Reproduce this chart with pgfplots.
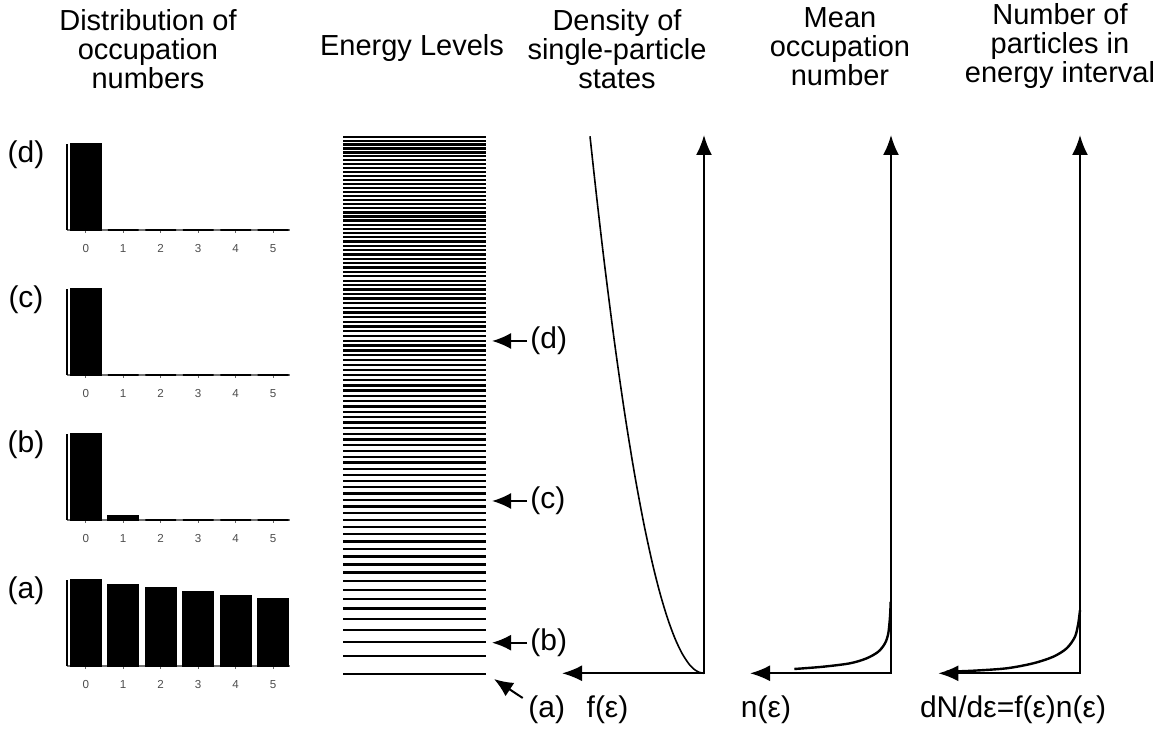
\documentclass[border=0pt]{standalone}
\usepackage{fontspec}
\setmainfont{Liberation Sans}
\usepackage{pgfplots}
\pgfplotsset{compat=1.18}
\usetikzlibrary{arrows.meta}

\pgfplotsset{
  barpanel/.style={
    scale only axis, width=111.5pt, height=43pt,
    xmin=-0.5, xmax=5.45, ymin=0, ymax=1,
    axis x line*=bottom, axis y line*=left,
    x axis line style={draw=black!55, line width=0.8pt, -},
    y axis line style={draw=black, line width=0.9pt, -},
    xtick={0,...,5}, ytick=\empty,
    tick align=inside, major tick length=1.5pt,
    xtick style={draw=black!60, line width=0.4pt},
    /pgf/number format/assume math mode=true,
    xticklabel style={font=\fontsize{5.8}{6}\selectfont, text=black!70, yshift=-2pt},
    ybar, bar width=15.4pt, bar shift=0pt,
    anchor=south west, clip=false,
  },
  curvepanel/.style={
    scale only axis, anchor=south west, hide axis, clip=false,
    x dir=reverse, xmin=0, ymin=0, ymax=538.3, height=269.15pt,
  },
}
\tikzset{bigarrow/.style={line width=1pt, {Latex[length=10pt,width=8pt]}-{Latex[length=10pt,width=8pt]}}}
\newcommand{\lab}{\fontsize{15}{15}\selectfont}
\newcommand{\ttl}{\fontsize{14.5}{14.5}\selectfont}

\begin{document}
\begin{tikzpicture}
\useasboundingbox (0,0) rectangle (578pt,364pt);

% ---------- bar panels ----------
\begin{axis}[barpanel, at={(33.5pt,249pt)}]
\addplot[fill=black, draw=black, line width=0.7pt] coordinates {(0,1) (1,0) (2,0) (3,0) (4,0) (5,0)};
\end{axis}
\begin{axis}[barpanel, at={(33.5pt,176.5pt)}]
\addplot[fill=black, draw=black, line width=0.7pt] coordinates {(0,1) (1,0) (2,0) (3,0) (4,0) (5,0)};
\end{axis}
\begin{axis}[barpanel, at={(33.5pt,104pt)}]
\addplot[fill=black, draw=black, line width=0.7pt] coordinates {(0,1) (1,0.05) (2,0) (3,0) (4,0) (5,0)};
\end{axis}
\begin{axis}[barpanel, at={(33.5pt,31pt)}]
\addplot[fill=black, draw=black, line width=0.7pt] coordinates {(0,1) (1,0.95) (2,0.907) (3,0.861) (4,0.823) (5,0.78)};
\end{axis}

\node[font=\lab] at (13pt,286.5pt) {(d)};
\node[font=\lab] at (13pt,214pt) {(c)};
\node[font=\lab] at (13pt,141.5pt) {(b)};
\node[font=\lab] at (13pt,68.5pt) {(a)};

% ---------- energy levels ----------
\begin{axis}[at={(171.65pt,27pt)}, anchor=south west, scale only axis,
  width=71.35pt, height=268.5pt, xmin=0, xmax=1, ymin=0.630, ymax=21.041,
  hide axis, clip=false]
\addplot[xcomb, line width=1.15pt, black] table {
x y
1 0.630
1 1.310
1 1.842
1 2.305
1 2.726
1 3.116
1 3.483
1 3.832
1 4.165
1 4.486
1 4.795
1 5.095
1 5.386
1 5.670
1 5.946
1 6.217
1 6.481
1 6.740
1 6.995
1 7.245
1 7.491
1 7.732
1 7.970
1 8.204
1 8.435
1 8.664
1 8.889
1 9.111
1 9.331
1 9.547
1 9.762
1 9.974
1 10.184
1 10.392
1 10.598
1 10.802
1 11.003
1 11.204
1 11.402
1 11.598
1 11.793
1 11.987
1 12.178
1 12.369
1 12.558
1 12.745
1 12.931
1 13.116
1 13.299
1 13.481
1 13.663
1 13.842
1 14.020
1 14.199
1 14.375
1 14.550
1 14.724
1 14.897
1 15.069
1 15.240
1 15.411
1 15.580
1 15.749
1 15.917
1 16.083
1 16.249
1 16.414
1 16.578
1 16.741
1 16.904
1 17.065
1 17.227
1 17.386
1 17.546
1 17.704
1 17.862
1 18.019
1 18.175
1 18.331
1 18.486
1 18.644
1 18.797
1 18.950
1 19.102
1 19.254
1 19.405
1 19.560
1 19.709
1 19.857
1 20.005
1 20.157
1 20.309
1 20.454
1 20.600
1 20.754
1 20.898
1 21.041
};
\end{axis}

\draw[line width=1pt, -{Latex[length=9.5pt,width=8pt]}] (263.5pt,193.5pt) -- (246pt,193.5pt);
\draw[line width=1pt, -{Latex[length=9.5pt,width=8pt]}] (263.5pt,113.5pt) -- (246pt,113.5pt);
\draw[line width=1pt, -{Latex[length=9.5pt,width=8pt]}] (263.5pt,42.65pt) -- (246pt,42.65pt);
\draw[line width=1pt, -{Latex[length=9.5pt,width=8pt]}] (261.35pt,15pt) -- (247pt,24.5pt);
\node[font=\lab, anchor=west, inner sep=0pt] at (265pt,193.5pt) {(d)};
\node[font=\lab, anchor=west, inner sep=0pt] at (265pt,113.5pt) {(c)};
\node[font=\lab, anchor=west, inner sep=0pt] at (265pt,42.65pt) {(b)};
\node[font=\lab, anchor=west, inner sep=0pt] at (264pt,9pt) {(a)};

% ---------- density of states ----------
\begin{axis}[curvepanel, at={(281pt,27.35pt)}, xmax=142, width=71pt]
\draw[bigarrow] (axis cs:142,0) -- (axis cs:0,0) -- (axis cs:0,538.3);
\addplot[line width=0.8pt, black, smooth] table {
x y
0 0
4.92 1
8.52 3
12.05 6
15.56 10
22.0 20
29.1 35
36.48 55
44.0 80
51.59 110
60.25 150
69.57 200
79.32 260
89.36 330
99.6 410
107.77 480
114.0 537
};
\end{axis}

% ---------- mean occupation number ----------
\begin{axis}[curvepanel, at={(375pt,27.35pt)}, xmax=141, width=70.5pt]
\draw[bigarrow] (axis cs:141,0) -- (axis cs:0,0) -- (axis cs:0,538.3);
\addplot[line width=1.2pt, black, smooth] table {
x y
96.7 4.3
67.7 6.6
41 10
24.3 15
12.7 21.6
6 30
2.7 40
1 56.6
0.3 71.6
};
\end{axis}

% ---------- dN/de ----------
\begin{axis}[curvepanel, at={(469.15pt,27.35pt)}, xmax=141.7, width=70.85pt]
\draw[bigarrow] (axis cs:141.7,0) -- (axis cs:0,0) -- (axis cs:0,538.3);
\addplot[line width=1.2pt, black, smooth] table {
x y
133.3 1.6
106.7 2.6
73.3 5
46.7 10
26.7 16.6
13.3 25
5 36.6
1.7 50
0 63.3
};
\end{axis}

\node[font=\lab] at (303.75pt,9pt) {f(ε)};
\node[font=\lab] at (383pt,9pt) {n(ε)};
\node[font=\lab] at (506.5pt,9pt) {dN/dε=f(ε)n(ε)};

% ---------- titles ----------
\node[font=\ttl, align=center] at (74pt,339.5pt) {Distribution of\\occupation\\numbers};
\node[font=\ttl] at (206pt,340pt) {Energy Levels};
\node[font=\ttl, align=center] at (308.5pt,339.5pt) {Density of\\single-particle\\states};
\node[font=\ttl, align=center] at (420pt,340.75pt) {Mean\\occupation\\number};
\node[font=\ttl, align=center] at (530pt,340.75pt) {Number of\\particles in\\energy interval};
\end{tikzpicture}
\end{document}
